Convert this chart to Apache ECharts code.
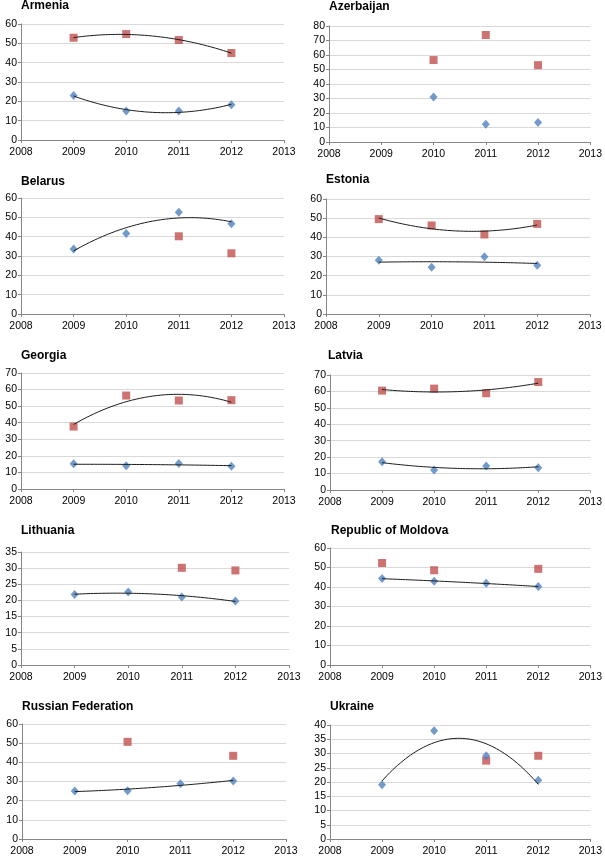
<!DOCTYPE html>
<html>
<head>
<meta charset="utf-8">
<script src="https://cdn.jsdelivr.net/npm/echarts@6/dist/echarts.min.js"></script>
<style>
  html, body { margin: 0; padding: 0; background: #fff; }
  #chart { width: 605px; height: 857px; }
</style>
</head>
<body>
<div id="chart"></div>
<script>
// ---- Data ----
const years = [2009, 2010, 2011, 2012];
const countries = ["Armenia", "Azerbaijan", "Belarus", "Estonia", "Georgia", "Latvia",
                   "Lithuania", "Republic of Moldova", "Russian Federation", "Ukraine"];
const blueValues = [
  [23.0, 15.0, 15.0, 18.2],
  [null, 31.1, 12.3, 13.5],
  [33.6, 41.7, 52.6, 46.7],
  [28.0, 24.4, 29.9, 25.4],
  [15.2, 14.0, 15.4, 13.8],
  [17.2, 12.1, 14.6, 13.6],
  [21.8, 22.6, 21.1, 19.8],
  [44.3, 43.0, 41.9, 40.2],
  [25.0, 25.2, 28.8, 30.3],
  [19.0, 38.0, 29.2, 20.6]
];
const redValues = [
  [52.9, 54.8, 51.7, 45.0],
  [null, 56.5, 73.8, 53.0],
  [null, null, 40.2, 31.4],
  [49.5, 46.2, 41.5, 47.0],
  [37.7, 56.4, 53.4, 53.6],
  [60.5, 61.7, 58.9, 65.7],
  [null, null, 30.1, 29.3],
  [52.3, 48.6, null, 49.3],
  [null, 50.7, null, 43.4],
  [null, null, 27.5, 29.2]
];
const yMaxValues = [60, 80, 60, 60, 70, 70, 35, 60, 60, 40];
const yStepValues = [10, 10, 10, 10, 10, 10, 5, 10, 10, 5];
const xMin = 2008, xMax = 2013;

// ---- Layout ----
const grids = [
  {left: 21, top: 24, width: 263, height: 116},
  {left: 329, top: 26, width: 263, height: 116},
  {left: 21, top: 198, width: 263, height: 116},
  {left: 326, top: 199, width: 264, height: 115},
  {left: 21, top: 373, width: 263, height: 116},
  {left: 330, top: 375, width: 262, height: 115},
  {left: 21, top: 552, width: 268, height: 113},
  {left: 330, top: 548, width: 263, height: 117},
  {left: 22, top: 724, width: 264, height: 117},
  {left: 330, top: 725, width: 264, height: 116}
];
const titlePos = [
  [21, 6], [329, 7], [21, 182], [326, 180], [21, 356],
  [328, 356], [21, 531], [331, 531], [22, 707], [330, 707]
];

const BLUE = '#4F81BD', RED = '#C0504D';
const FONT = '"Liberation Sans", Arial, sans-serif';

// Least-squares quadratic trend (Excel polynomial order 2)
function quadFit(xs, ys) {
  const n = xs.length;
  const mx = xs.reduce((a, b) => a + b, 0) / n;
  let S = [0, 0, 0, 0, 0], T = [0, 0, 0];
  for (let i = 0; i < n; i++) {
    const x = xs[i] - mx, y = ys[i];
    let p = 1;
    for (let k = 0; k < 5; k++) { S[k] += p; if (k < 3) T[k] += p * y; p *= x; }
  }
  const A = [[S[0], S[1], S[2], T[0]], [S[1], S[2], S[3], T[1]], [S[2], S[3], S[4], T[2]]];
  for (let i = 0; i < 3; i++) {
    let piv = i;
    for (let r = i + 1; r < 3; r++) if (Math.abs(A[r][i]) > Math.abs(A[piv][i])) piv = r;
    [A[i], A[piv]] = [A[piv], A[i]];
    for (let r = 0; r < 3; r++) {
      if (r === i) continue;
      const f = A[r][i] / A[i][i];
      for (let c = i; c < 4; c++) A[r][c] -= f * A[i][c];
    }
  }
  const a = A[0][3] / A[0][0], b = A[1][3] / A[1][1], c = A[2][3] / A[2][2];
  return x => a + b * (x - mx) + c * (x - mx) * (x - mx);
}

function trendPoints(vals) {
  const xs = [], ys = [];
  vals.forEach((v, i) => { if (v != null) { xs.push(years[i]); ys.push(v); } });
  if (xs.length < 4) return null;
  const f = quadFit(xs, ys);
  const pts = [];
  const x0 = xs[0], x1 = xs[xs.length - 1];
  const steps = 60;
  for (let k = 0; k <= steps; k++) {
    const x = x0 + (x1 - x0) * k / steps;
    pts.push([x, f(x)]);
  }
  return pts;
}

const option = {
  backgroundColor: '#ffffff',
  animation: false,
  title: [], grid: [], xAxis: [], yAxis: [], series: []
};

countries.forEach((name, i) => {
  option.title.push({
    text: name, left: titlePos[i][0], top: titlePos[i][1] - 6,
    padding: 0,
    textStyle: {fontFamily: FONT, fontSize: 12, fontWeight: 'bold', color: '#000'}
  });
  option.grid.push(Object.assign({containLabel: false}, grids[i]));
  option.xAxis.push({
    type: 'value', gridIndex: i, min: xMin, max: xMax, interval: 1,
    axisLine: {show: true, lineStyle: {color: '#868686', width: 1}},
    axisTick: {show: true, length: 3, lineStyle: {color: '#868686'}},
    splitLine: {show: false},
    axisLabel: {fontFamily: FONT, fontSize: 10.5, color: '#000', margin: 7,
                formatter: v => String(v)}
  });
  option.yAxis.push({
    type: 'value', gridIndex: i, min: 0, max: yMaxValues[i], interval: yStepValues[i],
    axisLine: {show: true, lineStyle: {color: '#868686', width: 1}},
    axisTick: {show: true, length: 3, lineStyle: {color: '#868686'}},
    splitLine: {show: true, lineStyle: {color: '#d9d9d9', width: 1}},
    axisLabel: {fontFamily: FONT, fontSize: 10.5, color: '#000', margin: 4}
  });
  const blueData = [], redData = [];
  years.forEach((y, j) => {
    if (blueValues[i][j] != null) blueData.push([y, blueValues[i][j]]);
    if (redValues[i][j] != null) redData.push([y, redValues[i][j]]);
  });
  option.series.push({
    type: 'scatter', xAxisIndex: i, yAxisIndex: i, data: redData,
    symbol: 'rect', symbolSize: 8, itemStyle: {color: RED}, z: 3
  });
  option.series.push({
    type: 'scatter', xAxisIndex: i, yAxisIndex: i, data: blueData,
    symbol: 'diamond', symbolSize: [8, 9], itemStyle: {color: BLUE}, z: 3
  });
  [redValues[i], blueValues[i]].forEach(vals => {
    const pts = trendPoints(vals);
    if (pts) {
      option.series.push({
        type: 'line', xAxisIndex: i, yAxisIndex: i, data: pts,
        showSymbol: false, symbol: 'none', silent: true,
        lineStyle: {color: '#1a1a1a', width: 1}, z: 4
      });
    }
  });
});

const chart = echarts.init(document.getElementById('chart'), null, {renderer: 'canvas'});
chart.setOption(option);
</script>
</body>
</html>
